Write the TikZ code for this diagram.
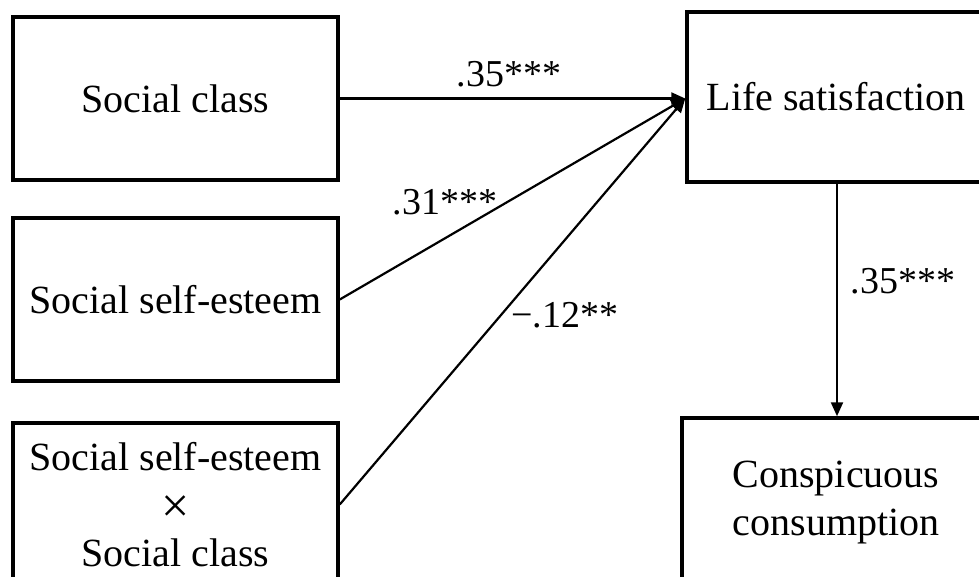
\documentclass[tikz,border=0pt]{standalone}
\usepackage{fontspec}
\setmainfont{Liberation Serif}
\usetikzlibrary{arrows.meta}
\begin{document}
\begin{tikzpicture}[x=1pt,y=-1pt,
  box/.style={draw, line width=3.5pt, rectangle, align=center, inner sep=0pt,
    font=\fontsize{40}{48}\selectfont},
  conn/.style={line width=2.2pt, -{Triangle[length=14pt,width=12pt]}},
  lbl/.style={anchor=base, inner sep=0pt, font=\fontsize{38}{44}\selectfont}]
\useasboundingbox (0,0) rectangle (979,577);
\clip (0,0) rectangle (979,577);
\node[box, minimum width=325pt, minimum height=163pt] (b1) at (175.5,98.5) {Social class};
\node[box, minimum width=325pt, minimum height=163pt] (b2) at (175.5,299.5) {Social self-esteem};
\node[box, minimum width=325pt, minimum height=163pt] (b3) at (175.5,504.5) {Social self-esteem\\\smash{\raisebox{-4pt}{\fontsize{50}{48}\selectfont ×}}\\Social class};
\node[box, minimum width=298pt, minimum height=170pt] (ls) at (836,97) {Life satisfaction};
\node[box, minimum width=308pt, minimum height=170pt] (cc) at (836,503) {Conspicuous\\consumption};
\coordinate (t) at (ls.west |- b1.east);
\draw[conn] (b1.east) -- (t);
\draw[conn] (b2.east) -- (t);
\draw[conn] (b3.east) -- (t);
\draw[conn] (ls.south -| 837,0) -- (cc.north -| 837,0);
\node[lbl] (l1) at (509,87) {.35***};
\node[lbl] (l2) at (445,215) {.31***};
\node[lbl] (l3) at (565,327) {−.12**};
\node[lbl] (l4) at (903,293) {.35***};
\end{tikzpicture}
\end{document}
